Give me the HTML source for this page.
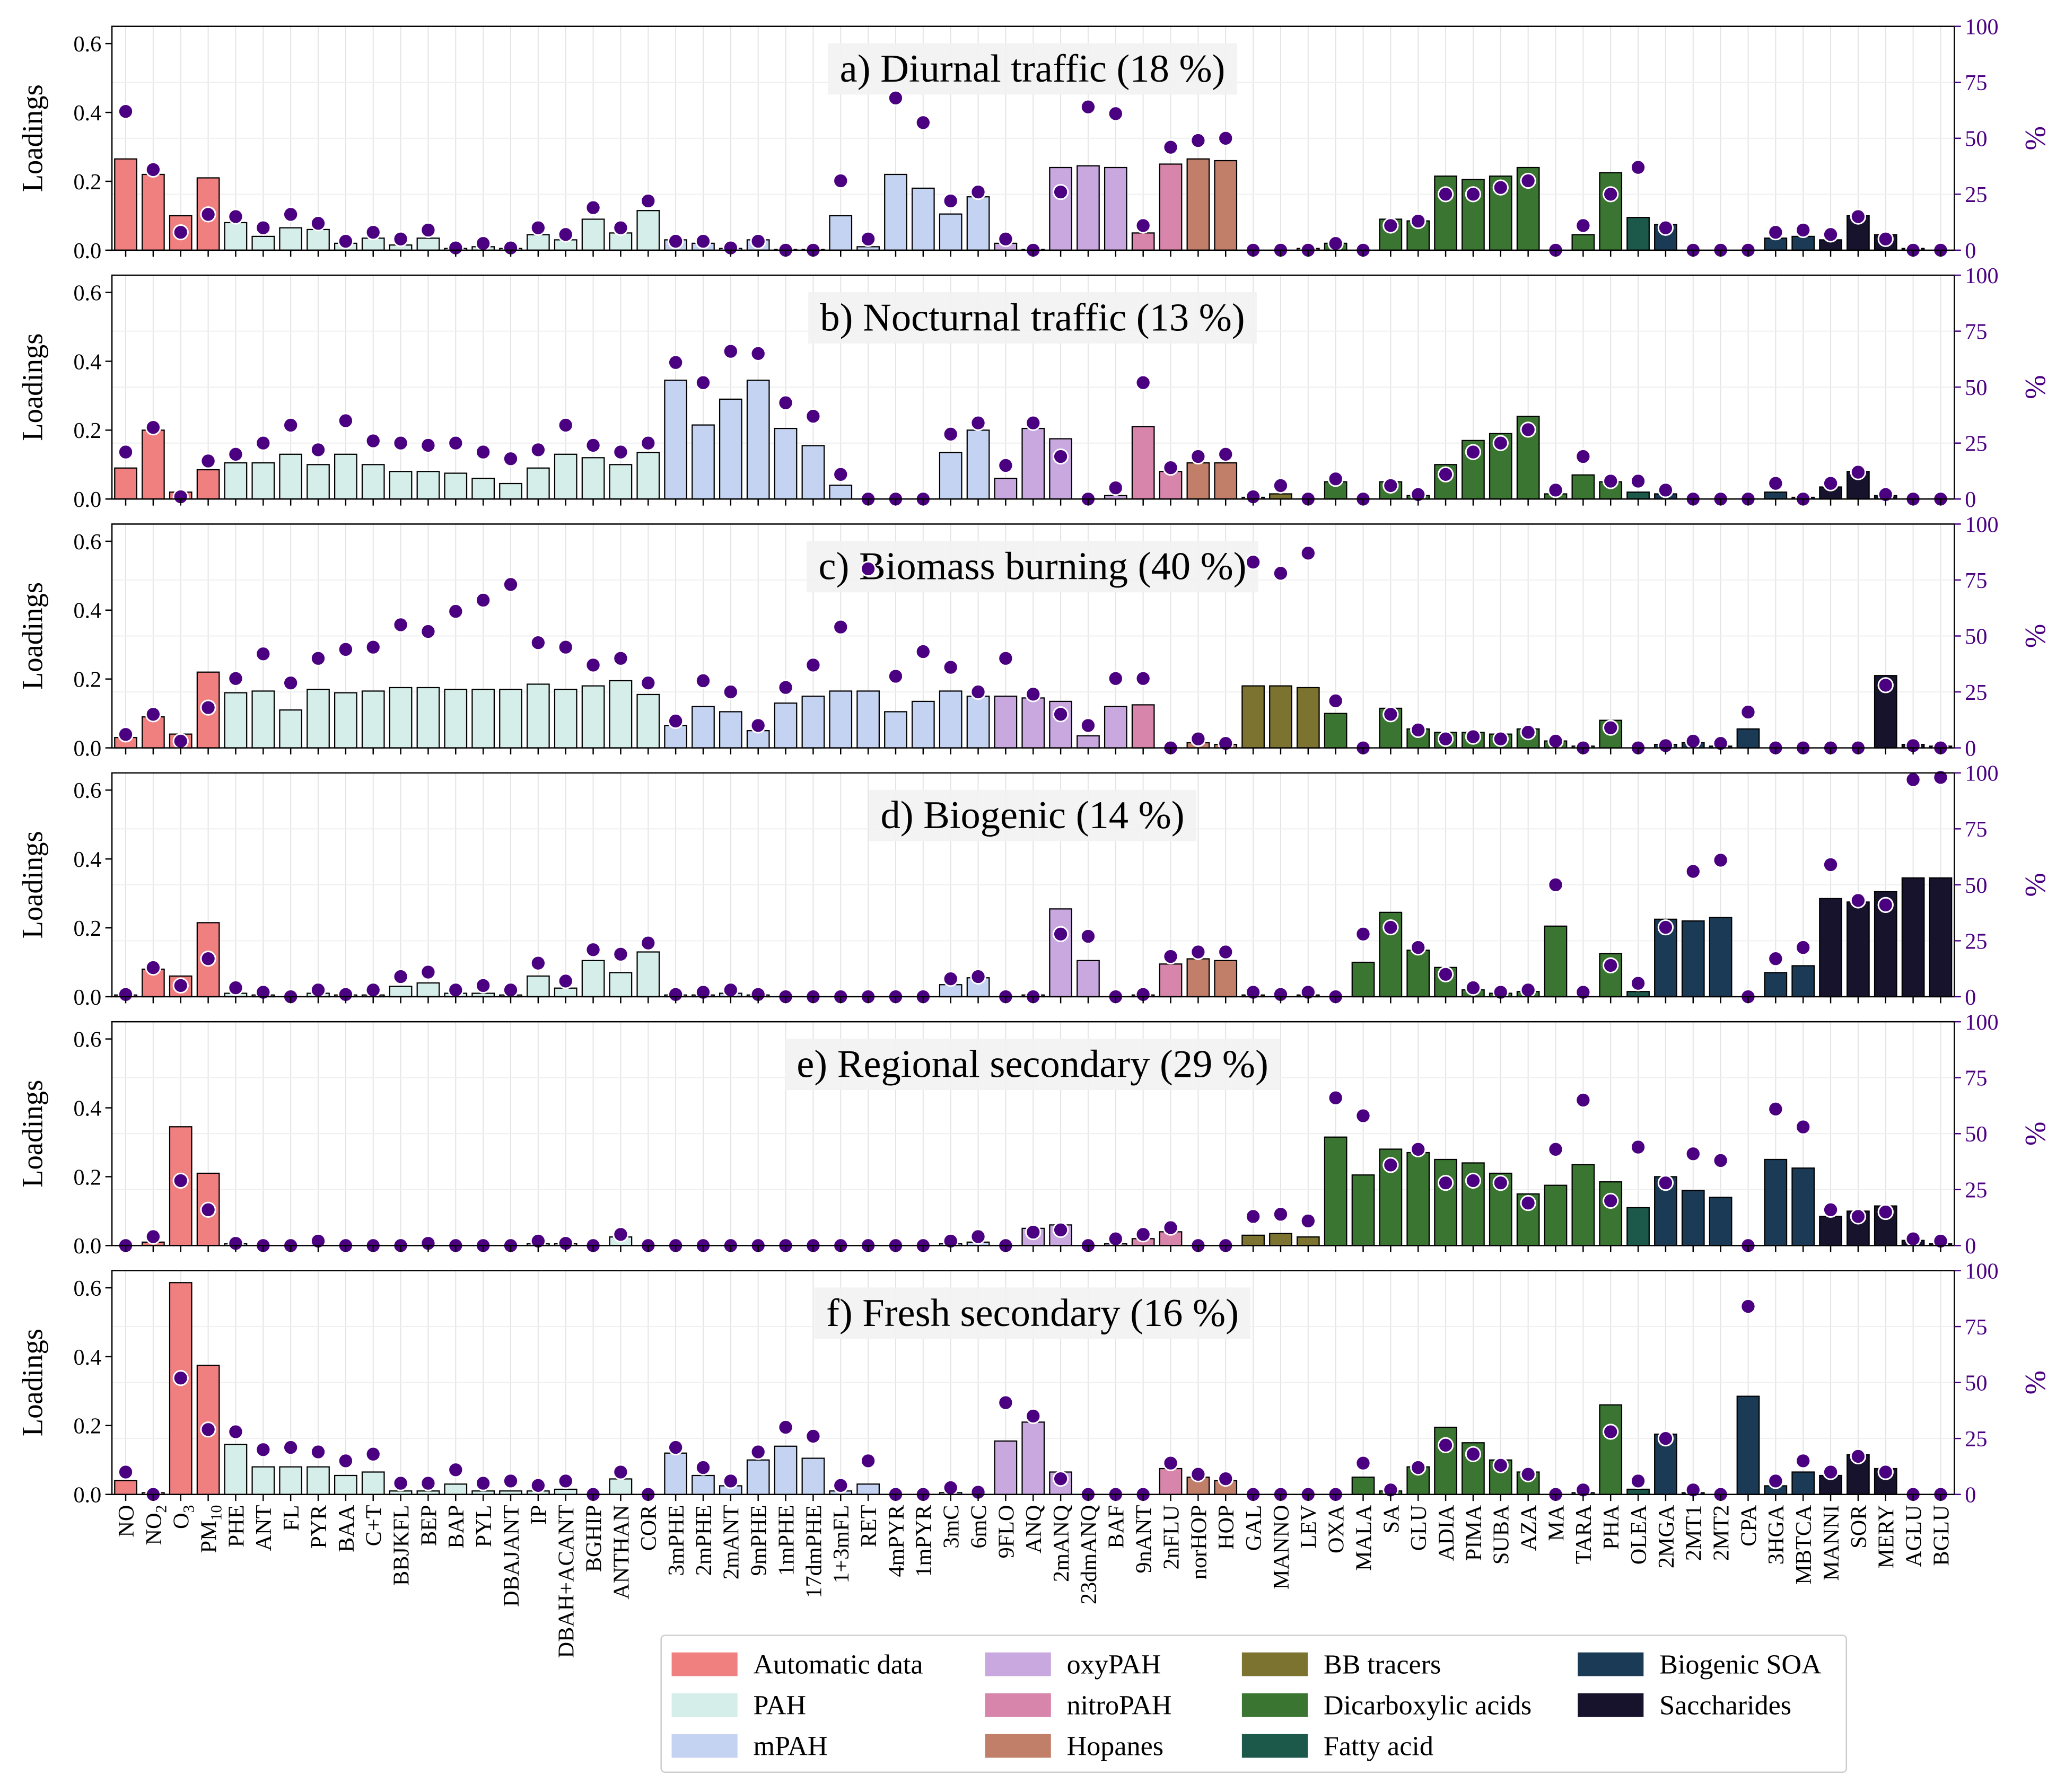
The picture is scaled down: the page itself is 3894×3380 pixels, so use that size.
<!DOCTYPE html>
<html><head><meta charset="utf-8">
<style>
html,body{margin:0;padding:0;background:#fff;}
svg{display:block;}
text{font-family:"Liberation Serif","DejaVu Serif",serif;}
</style></head>
<body>
<svg id="chart" width="3894" height="3380" viewBox="0 0 1568 1361" xmlns="http://www.w3.org/2000/svg">
<g id="panels"></g>
<g id="xlabels"></g>
<g id="legend"></g>
</svg>
<script>
const categories = ["NO","NO2","O3","PM10","PHE","ANT","FL","PYR","BAA","C+T","BBJKFL","BEP","BAP","PYL","DBAJANT","IP","DBAH+ACANT","BGHIP","ANTHAN","COR","3mPHE","2mPHE","2mANT","9mPHE","1mPHE","17dmPHE","1+3mFL","RET","4mPYR","1mPYR","3mC","6mC","9FLO","ANQ","2mANQ","23dmANQ","BAF","9nANT","2nFLU","norHOP","HOP","GAL","MANNO","LEV","OXA","MALA","SA","GLU","ADIA","PIMA","SUBA","AZA","MA","TARA","PHA","OLEA","2MGA","2MT1","2MT2","CPA","3HGA","MBTCA","MANNI","SOR","MERY","AGLU","BGLU"];
const groupNames = ["Automatic data","PAH","mPAH","oxyPAH","nitroPAH","Hopanes","BB tracers","Dicarboxylic acids","Fatty acid","Biogenic SOA","Saccharides"];
const groupColors = ["#f08080","#d5eeea","#c4d3f1","#c9a8e0","#d785ab","#c17f6a","#7d7331","#3b7532","#1c594b","#1b3a55","#17132d"];
const groupOf = [0,0,0,0, 1,1,1,1,1,1,1,1,1,1,1,1,1,1,1,1, 2,2,2,2,2,2,2,2,2,2,2,2, 3,3,3,3,3, 4,4, 5,5, 6,6,6, 7,7,7,7,7,7,7,7,7,7,7, 8, 9,9,9,9,9,9, 10,10,10,10,10];
const panelTitles = ["a) Diurnal traffic (18 %)","b) Nocturnal traffic (13 %)","c) Biomass burning (40 %)","d) Biogenic (14 %)","e) Regional secondary (29 %)","f) Fresh secondary (16 %)"];
const loadA = [.265,.22,.10,.21,.08,.04,.065,.06,.02,.035,.015,.035,.005,.01,.005,.045,.03,.09,.05,.115,.03,.02,.005,.03,.002,.002,.10,.01,.22,.18,.105,.155,.02,.002,.24,.245,.24,.05,.25,.265,.26,0,0,.005,.02,0,.09,.085,.215,.205,.215,.24,0,.045,.225,.095,.075,0,0,0,.035,.04,.03,.10,.045,.005,0];
const pctA = [62,36,8,16,15,10,16,12,4,8,5,9,1,3,1,10,7,19,10,22,4,4,1,4,0,0,31,5,68,57,22,26,5,0,26,64,61,11,46,49,50,0,0,0,3,0,11,13,25,25,28,31,0,11,25,37,10,0,0,0,8,9,7,15,5,0,0];
const loadB = [.09,.20,.02,.085,.105,.105,.13,.10,.13,.10,.08,.08,.075,.06,.045,.09,.13,.12,.10,.135,.345,.215,.29,.345,.205,.155,.04,0,0,0,.135,.20,.06,.205,.175,0,.01,.21,.08,.105,.105,.005,.015,0,.05,0,.05,.01,.10,.17,.19,.24,.015,.07,.05,.02,.015,0,0,0,.02,.005,.035,.08,.01,0,0];
const pctB = [21,32,1,17,20,25,33,22,35,26,25,24,25,21,18,22,33,24,21,25,61,52,66,65,43,37,11,0,0,0,29,34,15,34,19,0,5,52,14,19,20,1,6,0,9,0,6,2,11,21,25,31,4,19,8,8,4,0,0,0,7,0,7,12,2,0,0];
const loadC = [.03,.09,.04,.22,.16,.165,.11,.17,.16,.165,.175,.175,.17,.17,.17,.185,.17,.18,.195,.155,.065,.12,.105,.05,.13,.15,.165,.165,.105,.135,.165,.15,.15,.145,.135,.035,.12,.125,0,.015,.01,.18,.18,.175,.10,0,.115,.055,.045,.045,.04,.055,.02,.005,.08,0,.01,.015,.005,.055,0,0,0,0,.21,.01,.005];
const pctC = [6,15,3,18,31,42,29,40,44,45,55,52,61,66,73,47,45,37,40,29,12,30,25,10,27,37,54,80,32,43,36,25,40,24,15,10,31,31,0,4,2,83,78,87,21,0,15,8,4,5,4,7,3,0,9,0,1,3,2,16,0,0,0,0,28,1,0];
const loadD = [.005,.08,.06,.215,.01,.005,0,.01,.005,.005,.03,.04,.01,.01,.005,.06,.025,.105,.07,.13,.005,.005,.01,.005,0,0,0,0,0,0,.035,.055,0,.005,.255,.105,0,.005,.095,.11,.105,.005,0,.005,0,.10,.245,.135,.085,.02,.01,.015,.205,0,.125,.015,.225,.22,.23,0,.07,.09,.285,.275,.305,.345,.345];
const pctD = [1,13,5,17,4,2,0,3,1,3,9,11,3,5,3,15,7,21,19,24,1,2,3,1,0,0,0,0,0,0,8,9,0,0,28,27,0,1,18,20,20,2,1,2,0,28,31,22,10,4,2,3,50,2,14,6,31,56,61,0,17,22,59,43,41,97,98];
const loadE = [0,.01,.345,.21,.005,0,0,0,0,0,0,0,0,0,0,.005,.005,0,.025,0,0,0,0,0,0,0,0,0,0,0,.005,.01,0,.05,.06,0,.005,.02,.04,0,0,.03,.035,.025,.315,.205,.28,.27,.25,.24,.21,.15,.175,.235,.185,.11,.20,.16,.14,0,.25,.225,.085,.10,.115,.015,.005];
const pctE = [0,4,29,16,1,0,0,2,0,0,0,1,0,0,0,2,1,0,5,0,0,0,0,0,0,0,0,0,0,0,2,4,0,6,7,0,3,5,8,0,0,13,14,11,66,58,36,43,28,29,28,19,43,65,20,44,28,41,38,0,61,53,16,13,15,3,2];
const loadF = [.04,.005,.615,.375,.145,.08,.08,.08,.055,.065,.01,.01,.03,.01,.01,.01,.015,0,.045,0,.12,.055,.025,.10,.14,.105,.01,.03,0,0,.005,0,.155,.21,.065,0,0,0,.075,.05,.04,0,0,0,0,.05,.01,.08,.195,.15,.10,.065,0,.005,.26,.015,.175,.005,0,.285,.025,.065,.055,.115,.075,0,0];
const pctF = [10,0,52,29,28,20,21,19,15,18,5,5,11,5,6,4,6,0,10,0,21,12,6,19,30,26,4,15,0,0,3,1,41,35,7,0,0,0,14,9,7,0,0,0,0,14,2,12,22,18,13,9,0,2,28,6,25,2,0,84,6,15,10,17,10,0,0];
const loadTicks = [0.0,0.2,0.4,0.6];
const pctTicks = [0,25,50,75,100];
const loadings = [loadA,loadB,loadC,loadD,loadE,loadF];
const percents = [pctA,pctB,pctC,pctD,pctE,pctF];

const NS="http://www.w3.org/2000/svg";
function mk(tag,attrs,parent){const e=document.createElementNS(NS,tag);for(const k in attrs)e.setAttribute(k,attrs[k]);parent.appendChild(e);return e;}
const X0=85, X1=1484, N=categories.length, step=(X1-X0)/N;
const panelTops=[20,209,398,587,776,965], PH=170, LMAX=0.65;
function xPos(i){return X0+step*(i+0.5);}
const purple="#4b0082";
const panelsG=document.getElementById('panels');
panelTops.forEach((top,p)=>{
  const bot=top+PH;
  const yL=v=>bot-v/LMAX*PH;
  const yP=v=>bot-v/100*PH;
  const g=mk('g',{},panelsG);
  
  
  for(let i=0;i<N;i++){mk('line',{x1:xPos(i),x2:xPos(i),y1:top,y2:bot,stroke:"#e4e4e4","stroke-width":0.8},g);}
  pctTicks.forEach(t=>{mk('line',{x1:X0,x2:X1,y1:yP(t),y2:yP(t),stroke:"#efefef","stroke-width":0.8},g);});
  // title (behind marks)
  const tg=mk('g',{},g);
  const tt=mk('text',{x:784,y:top+42,"text-anchor":"middle","font-size":30},tg);
  tt.textContent=panelTitles[p];
  
  
  const bb=tt.getBBox();
  const br=mk('rect',{x:bb.x-9,y:bb.y-3,width:bb.width+18,height:bb.height+6,fill:"#f2f2f2","fill-opacity":0.92},tg);
  tg.insertBefore(br,tt);
  loadings[p].forEach((v,i)=>{
    const r=mk('rect',{x:xPos(i)-step*0.4,y:yL(v),width:step*0.8,height:bot-yL(v),fill:groupColors[groupOf[i]],stroke:"#000","stroke-width":0.9},g);
    
    
  });
  percents[p].forEach((v,i)=>{
    const c=mk('circle',{cx:xPos(i),cy:yP(v),r:5.5,fill:purple,stroke:"#fff","stroke-width":1.2},g);
    
    
  });
  mk('rect',{x:X0,y:top,width:X1-X0,height:PH,fill:"none",stroke:"#000","stroke-width":1},g);
  loadTicks.forEach(t=>{
    mk('line',{x1:X0-5,x2:X0,y1:yL(t),y2:yL(t),stroke:"#000","stroke-width":1},g);
    const tx=mk('text',{x:X0-8,y:yL(t)+6,"text-anchor":"end","font-size":17,fill:"#000"},g);
    tx.textContent=t.toFixed(1);
    
    
  });
  pctTicks.forEach(t=>{
    mk('line',{x1:X1,x2:X1+5,y1:yP(t),y2:yP(t),stroke:purple,"stroke-width":1},g);
    const tx=mk('text',{x:X1+8,y:yP(t)+6,"font-size":17,fill:purple},g);
    tx.textContent=t;
    
    
  });
  for(let i=0;i<N;i++) mk('line',{x1:xPos(i),x2:xPos(i),y1:bot,y2:bot+5,stroke:"#000","stroke-width":1},g);
  const yl=mk('text',{x:0,y:0,transform:`translate(32,${top+PH/2}) rotate(-90)`,"text-anchor":"middle","font-size":22},g);
  yl.textContent="Loadings";
  
  
  const pl=mk('text',{x:0,y:0,transform:`translate(1553,${top+PH/2}) rotate(-90)`,"text-anchor":"middle","font-size":22,fill:purple},g);
  pl.textContent="%";
  
  
});
const xl=document.getElementById('xlabels');
const subs={"NO2":["NO","2"],"O3":["O","3"],"PM10":["PM","10"]};
categories.forEach((c,i)=>{
  const t=mk('text',{x:0,y:0,transform:`translate(${xPos(i)+6},1143) rotate(-90)`,"text-anchor":"end","font-size":17},xl);
  
  
  if(subs[c]){t.appendChild(document.createTextNode(subs[c][0]));const s=mk('tspan',{"font-size":12,dy:4},t);s.textContent=subs[c][1];}
  else t.textContent=c;
});
const lg=document.getElementById('legend');
mk('rect',{x:502,y:1242,width:900,height:104,fill:"#fff",stroke:"#ccc","stroke-width":1,rx:3},lg);
const colX=[510,748,943,1198], rowY=[1255,1286,1317];
const layout=[[0,0],[0,1],[0,2],[1,0],[1,1],[1,2],[2,0],[2,1],[2,2],[3,0],[3,1]];
groupNames.forEach((n,k)=>{
  const [c,r]=layout[k];
  const eg=mk('g',{},lg);
  
  
  mk('rect',{x:colX[c],y:rowY[r],width:50,height:18,fill:groupColors[k]},eg);
  const t=mk('text',{x:colX[c]+62,y:rowY[r]+16,"font-size":21},eg);
  t.textContent=n;
});
</script>
</body></html>
